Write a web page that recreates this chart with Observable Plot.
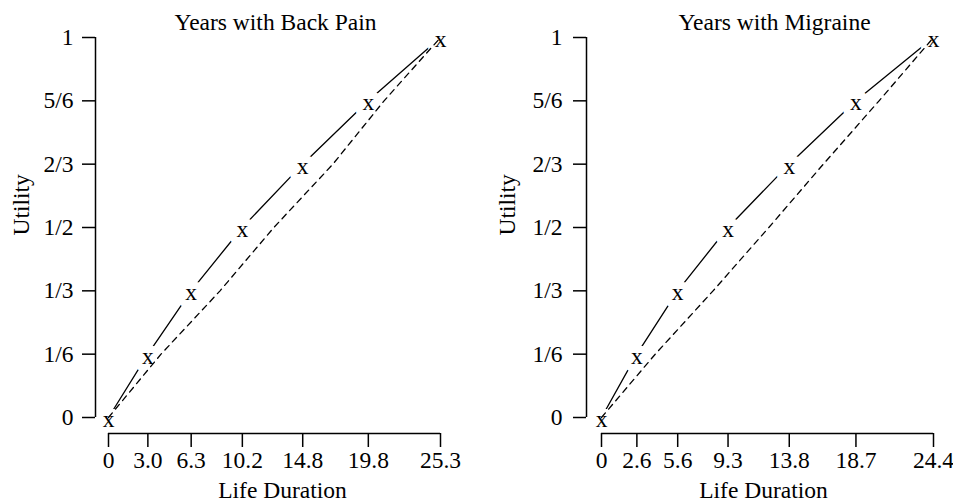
<!DOCTYPE html>
<html>
<head>
<meta charset="utf-8">
<script src="https://cdn.jsdelivr.net/npm/d3@7"></script>
<script src="https://cdn.jsdelivr.net/npm/@observablehq/plot@0.6"></script>
<style>
  html, body { margin: 0; padding: 0; background: #fff; }
  #wrap { position: relative; width: 953px; height: 502px; overflow: hidden; background: #fff; font-family: "Liberation Serif", serif; }
  #wrap > div { position: absolute; top: 0; }
  #wrap svg text { font-family: "Liberation Serif", "Times New Roman", serif; }
</style>
</head>
<body>
<div id="wrap"><div id="left" style="left:0"></div><div id="right" style="left:476px"></div></div>
<script>
// ---- data ----
const utilityTicks = [0, 1/6, 1/3, 1/2, 2/3, 5/6, 1];
const utilityLabels = ["0", "1/6", "1/3", "1/2", "2/3", "5/6", "1"];

const backPainTitle = "Years with Back Pain";
const backPainDurations = [0, 3.0, 6.3, 10.2, 14.8, 19.8, 25.3];
const backPainDurationLabels = ["0", "3.0", "6.3", "10.2", "14.8", "19.8", "25.3"];
const backPainDashed = [0, 4.0, 8.5, 12.6, 17.1, 21.0, 25.3];

const migraineTitle = "Years with Migraine";
const migraineDurations = [0, 2.6, 5.6, 9.3, 13.8, 18.7, 24.4];
const migraineDurationLabels = ["0", "2.6", "5.6", "9.3", "13.8", "18.7", "24.4"];
const migraineDashed = [0, 3.95, 8.2, 12.3, 16.3, 20.4, 24.4];

const xLabel = "Life Duration";
const yLabel = "Utility";

const FONT = "Liberation Serif, Times New Roman, serif";
const FS = 23.5;

function panel(cfg) {
  const pts = cfg.durations.map((d, i) => ({x: d, y: utilityTicks[i]}));
  const dash = cfg.dashed.map((d, i) => ({x: d, y: utilityTicks[i]}));
  const xFmt = new Map(cfg.durations.map((d, i) => [d, cfg.labels[i]]));
  const yFmt = new Map(utilityTicks.map((d, i) => [d, utilityLabels[i]]));
  const x0 = cfg.durations[0], x1 = cfg.durations[cfg.durations.length - 1];
  const T = {fontSize: FS, fontFamily: FONT};
  return Plot.plot({
    width: cfg.width, height: 502,
    marginLeft: cfg.ml, marginRight: cfg.mr, marginTop: 37, marginBottom: 85,
    x: {domain: [x0, x1], axis: null},
    y: {domain: [0, 1], axis: null},
    style: {fontFamily: FONT, fontSize: FS + "px", color: "#000", background: "transparent", overflow: "visible"},
    marks: [
      Plot.line(pts, {x: "x", y: "y", stroke: "#000", strokeWidth: 1.3}),
      Plot.text(pts, {x: "x", y: "y", text: () => "x", dy: 2, fill: "#fff", stroke: "#fff", strokeWidth: 14, strokeLinejoin: "round", ...T}),
      Plot.line(dash, {x: "x", y: "y", stroke: "#000", strokeWidth: 1.3, strokeDasharray: "6,5"}),
      Plot.ruleX([{x: x0, y1: 0, y2: 1}], {x: "x", y1: "y1", y2: "y2", dx: cfg.ydx, stroke: "#000", strokeWidth: 1.5}),
      Plot.axisY({ticks: utilityTicks, tickFormat: d => yFmt.get(d), tickSize: 13, tickPadding: cfg.ypad, dx: cfg.ydx, anchor: "left", label: null, strokeWidth: 1.5, ...T}),
      Plot.ruleY([{y: 0, x1: x0, x2: x1}], {y: "y", x1: "x1", x2: "x2", dy: 16, stroke: "#000", strokeWidth: 1.5}),
      Plot.axisX({ticks: cfg.durations, tickFormat: d => xFmt.get(d), tickSize: 14, tickPadding: 4, dy: 16, anchor: "bottom", label: null, strokeWidth: 1.5, ...T}),
      Plot.text(pts, {x: "x", y: "y", text: () => "x", dy: 2, fill: "#000", ...T}),
      Plot.text([cfg.title], {frameAnchor: "top", lineAnchor: "middle", text: d => d, dy: -15, dx: cfg.tdx, ...T}),
      Plot.text([yLabel], {frameAnchor: "left", lineAnchor: "middle", text: d => d, rotate: -90, dx: cfg.udx, dy: 8, ...T}),
      Plot.text([xLabel], {frameAnchor: "bottom", lineAnchor: "middle", text: d => d, dy: 73, dx: cfg.ldx, ...T})
    ]
  });
}

document.getElementById("left").append(panel({
  title: backPainTitle, durations: backPainDurations, labels: backPainDurationLabels, dashed: backPainDashed,
  width: 476, ml: 108, mr: 36, ydx: -13, ypad: 9, tdx: 1, udx: -87.5, ldx: 8
}));
document.getElementById("right").append(panel({
  title: migraineTitle, durations: migraineDurations, labels: migraineDurationLabels, dashed: migraineDashed,
  width: 477, ml: 125, mr: 20, ydx: -15, ypad: 11, tdx: 7, udx: -94.5, ldx: -4
}));
</script>
</body>
</html>
